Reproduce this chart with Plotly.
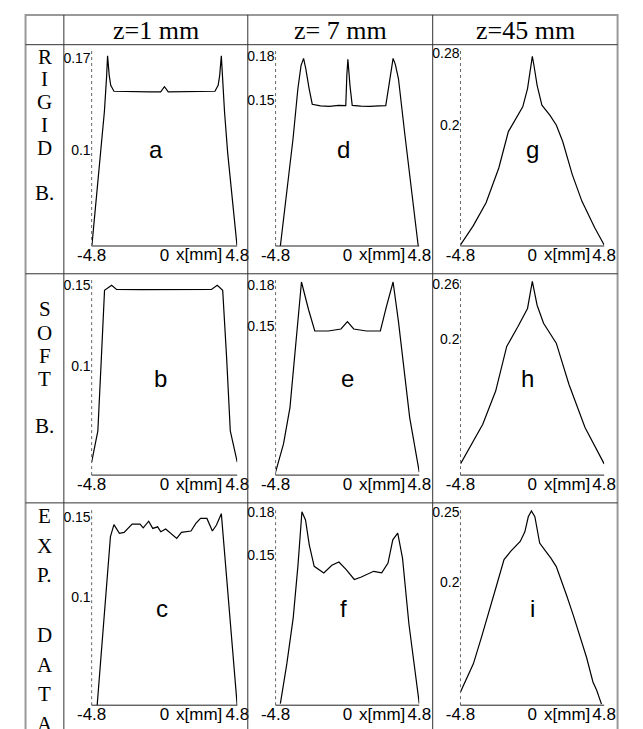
import plotly.graph_objects as go

W, H = 643, 729

# ---------------- data ----------------
col_titles = ["z=1 mm", "z= 7 mm", "z=45 mm"]
row_labels = [["R", "I", "G", "I", "D", "", "B."],
              ["S", "O", "F", "T", "", "B."],
              ["E", "X", "P.", "", "D", "A", "T", "A"]]
panel_letters = [["a", "d", "g"], ["b", "e", "h"], ["c", "f", "i"]]

# RIGID B.
xa = [-4.78, -4.59, -4.38, -4.17, -3.96, -3.81, -3.75, -3.64, -3.54, -3.33, -2.0, -1.0, -0.25, 0.0, 0.25, 1.0, 2.0, 3.33, 3.54, 3.64, 3.75, 3.81, 3.96, 4.17, 4.38, 4.59, 4.78]
ya = [0.028, 0.0514, 0.074, 0.098, 0.1295, 0.157, 0.172, 0.157, 0.1496, 0.1451, 0.1446, 0.1446, 0.1446, 0.1485, 0.1446, 0.1446, 0.1446, 0.1451, 0.1496, 0.157, 0.172, 0.157, 0.1295, 0.098, 0.074, 0.0514, 0.028]

xd = [-4.48, -4.05, -3.63, -3.31, -3.10, -2.93, -2.78, -2.56, -2.35, -1.8, -1.2, -0.6, -0.11, -0.04, 0.03, 0.17, 0.32, 0.9, 1.5, 2.1, 2.56, 2.77, 2.94, 3.05, 3.2, 3.41, 3.84, 4.26, 4.73]
yd = [0.0505, 0.0857, 0.1241, 0.1579, 0.1737, 0.1786, 0.1714, 0.158, 0.1473, 0.1462, 0.1458, 0.1465, 0.1463, 0.167, 0.178, 0.160, 0.1465, 0.146, 0.1458, 0.1462, 0.1463, 0.160, 0.1737, 0.1786, 0.1745, 0.1647, 0.1263, 0.0903, 0.0505]

xg = [-4.8, -3.95, -3.09, -2.24, -1.6, -0.96, -0.64, -0.32, -0.11, 0.0, 0.11, 0.32, 0.64, 1.17, 1.6, 2.03, 2.67, 3.31, 4.16, 4.8]
yg = [0.067, 0.0881, 0.1138, 0.1523, 0.1927, 0.211, 0.2201, 0.2404, 0.266, 0.2762, 0.266, 0.244, 0.222, 0.211, 0.2, 0.1817, 0.145, 0.1156, 0.0864, 0.067]

# SOFT B.
xb = [-4.8, -4.39, -4.16, -3.95, -3.48, -3.16, -1.5, 0.0, 1.5, 3.10, 3.48, 3.84, 4.10, 4.34, 4.8]
yb = [0.0413, 0.0605, 0.105, 0.1465, 0.1496, 0.1471, 0.147, 0.147, 0.147, 0.1471, 0.1496, 0.1465, 0.105, 0.0605, 0.0413]

xe = [-4.8, -4.27, -3.84, -3.42, -3.07, -2.6, -2.18, -1.28, -0.43, 0.0, 0.42, 1.28, 2.2, 2.6, 3.05, 3.41, 3.73, 4.16, 4.8]
ye = [0.0408, 0.0618, 0.0889, 0.138, 0.1825, 0.162, 0.146, 0.146, 0.1475, 0.153, 0.1475, 0.146, 0.146, 0.164, 0.1825, 0.153, 0.121, 0.0815, 0.0408]

xh = [-4.8, -4.16, -3.31, -2.45, -1.71, -0.96, -0.32, 0.0, 0.32, 0.75, 1.6, 2.45, 3.52, 4.8]
yh = [0.0642, 0.0822, 0.1073, 0.1433, 0.1918, 0.2134, 0.2331, 0.2625, 0.2366, 0.217, 0.1954, 0.1504, 0.1038, 0.0642]

# EXP. DATA
xc = [-4.44, -3.56, -3.33, -2.97, -2.66, -2.13, -1.61, -1.40, -1.04, -0.77, -0.45, -0.24, 0.08, 0.39, 0.81, 1.12, 1.75, 2.07, 2.38, 2.80, 3.16, 3.43, 3.75, 4.80]
yc = [0.0321, 0.1377, 0.1452, 0.1397, 0.1403, 0.1455, 0.1455, 0.1432, 0.1473, 0.1428, 0.1438, 0.1407, 0.1424, 0.1397, 0.1366, 0.1403, 0.1412, 0.1459, 0.149, 0.149, 0.1412, 0.1449, 0.152, 0.0321]

xf = [-4.48, -4.05, -3.62, -3.30, -3.04, -2.80, -2.55, -2.22, -1.58, -1.04, -0.57, -0.08, 0.46, 0.89, 1.75, 2.29, 2.71, 3.03, 3.36, 3.68, 4.11, 4.80]
yf = [0.0461, 0.0738, 0.1061, 0.1431, 0.18, 0.1742, 0.1569, 0.1419, 0.1373, 0.1426, 0.1449, 0.1396, 0.1327, 0.1343, 0.1384, 0.1373, 0.1442, 0.1604, 0.165, 0.1476, 0.1015, 0.0461]

xi = [-4.8, -4.3, -3.94, -3.4, -2.86, -2.4, -1.89, -1.45, -0.81, -0.5, -0.27, -0.06, 0.17, 0.49, 0.9, 1.24, 1.6, 1.89, 2.3, 2.75, 3.2, 3.62, 4.05, 4.3, 4.62]
yi = [0.1207, 0.132, 0.141, 0.16, 0.1791, 0.197, 0.216, 0.2219, 0.2291, 0.236, 0.2469, 0.251, 0.2469, 0.2279, 0.222, 0.2171, 0.211, 0.2029, 0.19, 0.1755, 0.16, 0.1457, 0.1279, 0.122, 0.112]

series = [[(xa, ya), (xd, yd), (xg, yg)],
          [(xb, yb), (xe, ye), (xh, yh)],
          [(xc, yc), (xf, yf), (xi, yi)]]
y_ranges = [[[0.0273, 0.176], [0.0505, 0.1839], [0.0658, 0.2825]],
            [[0.0334, 0.153], [0.0386, 0.1842], [0.052, 0.2643]],
            [[0.0327, 0.155], [0.045, 0.182], [0.1112, 0.2526]]]
y_ticks = [[[0.1, 0.17], [0.15, 0.18], [0.2, 0.28]],
           [[0.1, 0.15], [0.15, 0.18], [0.2, 0.26]],
           [[0.1, 0.15], [0.15, 0.18], [0.2, 0.25]]]
x_ticks = [-4.8, 0, 4.8]
x_ticktext = ["-4.8", "0", "4.8"]
x_range = [-4.8, 4.8]

# ---------------- layout geometry (pixels) ----------------
tbl_left, tbl_right, tbl_top = 11, 629, 9
col_lines = [51, 243, 436]
row_lines = [39, 270, 501]
col_px = [(80, 232), (272, 422), (465, 615)]
row_px = [(45, 242), (276, 473), (507, 705)]
letter_dx = [[-0.55, -0.26, 0.0], [-0.28, 0.0, -0.32], [-0.18, -0.24, 0.0]]
LABEL_LIFT = 3  # px: x tick labels sit tight under the axis line


def px_x(p):
    return p / W


def px_y(p):
    return 1 - p / H


fig = go.Figure()
layout = dict(width=W, height=H, margin=dict(l=0, r=0, t=0, b=0),
              paper_bgcolor="white", plot_bgcolor="white", showlegend=False)
annotations = []
shapes = []

tickfont_y = dict(family="Liberation Sans Narrow, Arial Narrow, Liberation Sans, Arial", size=14, color="black")
tickfont_x = dict(family="Liberation Sans, Arial", size=17, color="black")

k = 0
for r in range(3):
    for c in range(3):
        k += 1
        sx = "" if k == 1 else str(k)
        xs, ys = series[r][c]
        fig.add_trace(go.Scatter(x=xs, y=ys, mode="lines",
                                 line=dict(color="black", width=1.2),
                                 xaxis="x" + sx, yaxis="y" + sx,
                                 hoverinfo="skip"))
        x0, x1 = col_px[c]
        y0, y1 = row_px[r]
        layout["xaxis" + sx] = dict(domain=[px_x(x0), px_x(x1)], range=x_range,
                                    anchor="free", position=px_y(y1 - LABEL_LIFT),
                                    tickvals=x_ticks, ticktext=x_ticktext,
                                    tickfont=tickfont_x, showgrid=False, zeroline=False,
                                    showline=False, ticks="", ticklen=0, fixedrange=True)
        layout["yaxis" + sx] = dict(domain=[px_y(y1), px_y(y0)], range=y_ranges[r][c],
                                    anchor="x" + sx, tickvals=y_ticks[r][c],
                                    ticktext=[("%g" % v) for v in y_ticks[r][c]],
                                    tickfont=tickfont_y, showgrid=False, zeroline=False,
                                    showline=False, ticks="", ticklen=0, fixedrange=True)
        # dotted left axis
        shapes.append(dict(type="line", xref="x%s domain" % sx, yref="y%s domain" % sx,
                           x0=0, x1=0, y0=0, y1=1,
                           line=dict(color="#666", width=1, dash="dot")))
        # bottom axis line
        shapes.append(dict(type="line", xref="x%s domain" % sx, yref="y%s domain" % sx,
                           x0=0, x1=1, y0=0, y1=0,
                           line=dict(color="#222", width=1)))
        # x[mm] label
        annotations.append(dict(text="x[mm]", xref="x" + sx, yref="paper",
                                x=2.3, y=px_y(y1 + 9), showarrow=False,
                                font=tickfont_x, xanchor="center", yanchor="middle"))
        # panel letter
        annotations.append(dict(text=panel_letters[r][c], xref="x" + sx, yref="paper",
                                x=letter_dx[r][c], y=px_y(y0 + 100), showarrow=False,
                                font=dict(family="Liberation Sans, Arial", size=24, color="black"),
                                xanchor="center", yanchor="middle"))

# table lines
shapes.append(dict(type="rect", xref="paper", yref="paper",
                   x0=px_x(tbl_left), x1=px_x(tbl_right), y0=px_y(H + 5), y1=px_y(tbl_top),
                   line=dict(color="#999", width=2)))
for cx in col_lines:
    shapes.append(dict(type="line", xref="paper", yref="paper",
                       x0=px_x(cx), x1=px_x(cx), y0=px_y(tbl_top), y1=px_y(H + 5),
                       line=dict(color="#333", width=1)))
for ry in row_lines:
    shapes.append(dict(type="line", xref="paper", yref="paper",
                       x0=px_x(tbl_left), x1=px_x(tbl_right), y0=px_y(ry), y1=px_y(ry),
                       line=dict(color="#333", width=1)))

# column titles
col_edges = col_lines + [tbl_right]
for c, t in enumerate(col_titles):
    annotations.append(dict(text=t, xref="paper", yref="paper",
                            x=px_x((col_edges[c] + col_edges[c + 1]) / 2), y=px_y(25),
                            showarrow=False, xanchor="center", yanchor="middle",
                            font=dict(family="Liberation Serif, Times New Roman", size=26, color="black")))

# row labels
row_starts = [51, 306, 514]
row_steps = [23, 23.5, 30]
for r, letters in enumerate(row_labels):
    for j, L in enumerate(letters):
        if not L:
            continue
        annotations.append(dict(text=L, xref="paper", yref="paper",
                                x=px_x(31), y=px_y(row_starts[r] + j * row_steps[r]),
                                showarrow=False, xanchor="center", yanchor="middle",
                                font=dict(family="Liberation Serif, Times New Roman", size=21, color="black")))

layout["annotations"] = annotations
layout["shapes"] = shapes
fig.update_layout(**layout)
fig.write_html("out.html")
